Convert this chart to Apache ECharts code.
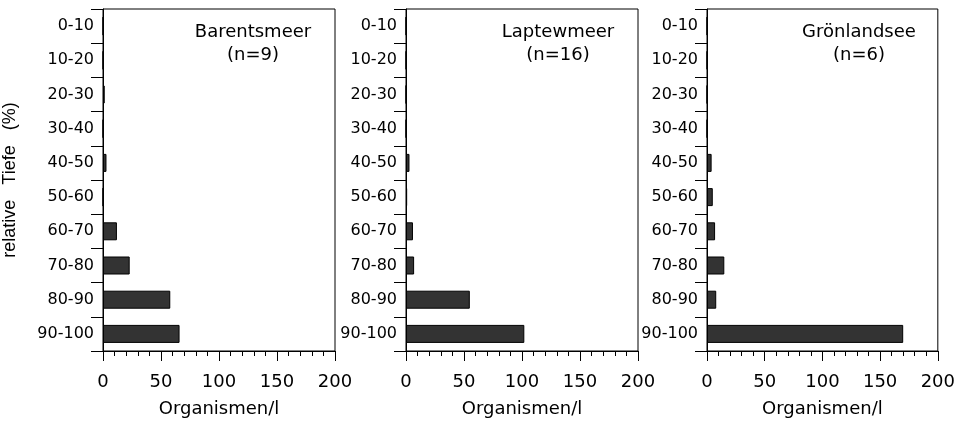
<!DOCTYPE html>
<html>
<head>
<meta charset="utf-8">
<script src="https://cdn.jsdelivr.net/npm/echarts@6/dist/echarts.min.js"></script>
<style>
  html, body { margin: 0; padding: 0; background: #fff; }
  #chart { width: 958px; height: 423px; }
</style>
</head>
<body>
<div id="chart"></div>
<script>
// Depth classes (relative depth in %), top of the core first
const depthClasses = ['0-10', '10-20', '20-30', '30-40', '40-50', '50-60', '60-70', '70-80', '80-90', '90-100'];

// Organisms per litre in each depth class
const barentsValues = [0, 0, 1.5, 0, 3, 0, 12, 23, 58, 66];
const laptevValues = [0, 0, 0, 0, 3, 1, 6, 7, 55, 102];
const greenlandValues = [0, 0, 0, 0, 4, 5, 7, 15, 8, 170];

// Panel headings
const seaNames = ['Barentsmeer', 'Laptewmeer', 'Grönlandsee'];
const sampleCounts = ['(n=9)', '(n=16)', '(n=6)'];

const xTicks = { min: 0, max: 200, interval: 50 };
const xAxisTitle = 'Organismen/l';
const yAxisTitle = 'relative   Tiefe   (%)';

const panelValues = [barentsValues, laptevValues, greenlandValues];

// Plot areas of the three panels (px)
const grids = [
  { left: 101, top: 9, width: 234, height: 346 },
  { left: 406, top: 9, width: 232, height: 346 },
  { left: 707, top: 9, width: 235, height: 346 }
];

const black = '#000';
const tickFont = 'DejaVu Sans';

const chart = echarts.init(document.getElementById('chart'), null, { renderer: 'canvas' });

const option = {
  animation: false,
  backgroundColor: '#fff',
  grid: grids.map(g => Object.assign({ show: true, borderColor: black, borderWidth: 1, backgroundColor: 'transparent' }, g)),
  xAxis: grids.map((g, i) => ({
    type: 'value',
    gridIndex: i,
    min: xTicks.min,
    max: xTicks.max,
    interval: xTicks.interval,
    name: xAxisTitle,
    nameLocation: 'middle',
    nameGap: 49,
    nameTextStyle: { fontFamily: tickFont, fontSize: 18, color: black },
    axisLine: { show: true, lineStyle: { color: black, width: 1 } },
    axisTick: { show: true, length: 10, lineStyle: { color: black } },
    minorTick: { show: true, splitNumber: 5, length: 5, lineStyle: { color: black } },
    splitLine: { show: false },
    axisLabel: { fontFamily: tickFont, fontSize: 18, color: black, margin: 22 }
  })),
  yAxis: grids.map((g, i) => ({
    type: 'category',
    gridIndex: i,
    inverse: true,
    data: depthClasses,
    name: i === 0 ? yAxisTitle : '',
    nameLocation: 'middle',
    nameGap: 84,
    nameTextStyle: { fontFamily: 'Liberation Sans', fontSize: 18, color: black },
    axisLine: { show: true, lineStyle: { color: black, width: 1 } },
    axisTick: { show: true, length: 12, lineStyle: { color: black } },
    axisLabel: { fontFamily: tickFont, fontSize: 16, color: black, margin: 9 },
    splitLine: { show: false }
  })),
  series: panelValues.map((vals, i) => ({
    type: 'bar',
    xAxisIndex: i,
    yAxisIndex: i,
    data: vals,
    barWidth: 18,
    itemStyle: { color: '#333', borderColor: '#000', borderWidth: 1 }
  })),
  graphic: grids.map((g, i) => ({
    type: 'text',
    x: g.left + 152,
    y: 21,
    style: {
      text: seaNames[i] + '\n' + sampleCounts[i],
      fontFamily: tickFont,
      fontSize: 18,
      lineHeight: 23,
      fill: black,
      textAlign: 'center',
      textVerticalAlign: 'top'
    }
  }))
};

chart.setOption(option);
</script>
</body>
</html>
